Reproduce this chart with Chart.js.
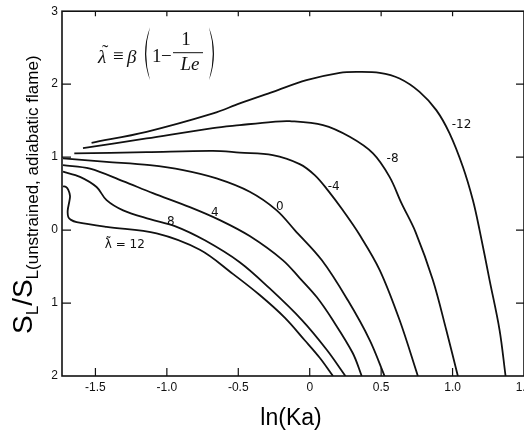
<!DOCTYPE html>
<html>
<head>
<meta charset="utf-8">
<script src="https://cdn.jsdelivr.net/npm/chart.js@4"></script>
<style>
  html, body { margin: 0; padding: 0; background: #fff; overflow: hidden; }
  #wrap { width: 560px; height: 431px; }
</style>
</head>
<body>
<div id="wrap"><canvas id="chart" width="560" height="431"></canvas></div>
<script>
// lambda-tilde values, one curve each
const lambdas = [12, 8, 4, 0, -4, -8, -12];

const lam12X = [-1.727, -1.706, -1.69, -1.678, -1.682, -1.694, -1.69, -1.671, -1.631, -1.422, -1.072, -0.769, -0.538, -0.35, -0.175, -0.035, 0.07, 0.163];
const lam12Y = [0.6, 0.59, 0.55, 0.47, 0.4, 0.27, 0.18, 0.14, 0.11, 0.045, -0.045, -0.27, -0.6, -0.89, -1.2, -1.51, -1.75, -2.0];

const lam8X = [-1.727, -1.608, -1.492, -1.422, -1.306, -1.119, -0.944, -0.734, -0.49, -0.28, -0.056, 0.119, 0.25];
const lam8Y = [0.8, 0.73, 0.59, 0.41, 0.27, 0.15, 0.055, -0.14, -0.44, -0.8, -1.23, -1.64, -2.0];

const lam4X = [-1.727, -1.538, -1.308, -1.098, -0.839, -0.629, -0.42, -0.189, -0.07, 0.049, 0.161, 0.301, 0.364];
const lam4Y = [0.89, 0.842, 0.671, 0.507, 0.315, 0.137, -0.082, -0.411, -0.658, -0.918, -1.233, -1.685, -2.0];

const lam0X = [-1.727, -1.422, -1.119, -0.886, -0.652, -0.42, -0.233, -0.105, 0.084, 0.266, 0.42, 0.524];
const lam0Y = [0.982, 0.936, 0.89, 0.822, 0.708, 0.525, 0.274, 0.0, -0.411, -0.959, -1.507, -2.0];

const lamM4X = [-1.648, -1.142, -0.678, -0.49, -0.259, -0.07, 0.035, 0.126, 0.231, 0.35, 0.49, 0.629, 0.757];
const lamM4Y = [1.051, 1.068, 1.086, 1.062, 1.027, 0.904, 0.753, 0.548, 0.274, -0.068, -0.548, -1.233, -2.0];

const lamM8X = [-1.587, -1.142, -0.678, -0.49, -0.257, -0.14, 0.093, 0.28, 0.443, 0.559, 0.643, 0.741, 0.862, 0.956, 1.037];
const lamM8Y = [1.123, 1.256, 1.397, 1.438, 1.484, 1.493, 1.438, 1.278, 1.051, 0.729, 0.366, -0.027, -0.685, -1.37, -2.0];

const lamM12X = [-1.527, -1.142, -0.676, -0.49, -0.257, -0.023, 0.21, 0.327, 0.49, 0.629, 0.769, 0.886, 0.979, 1.072, 1.142, 1.189, 1.259, 1.329, 1.371];
const lamM12Y = [1.196, 1.347, 1.599, 1.736, 1.895, 2.055, 2.155, 2.168, 2.155, 2.078, 1.895, 1.644, 1.325, 0.867, 0.411, 0.0, -0.685, -1.37, -2.0];

const curveXs = [lam12X, lam8X, lam4X, lam0X, lamM4X, lamM8X, lamM12X];
const curveYs = [lam12Y, lam8Y, lam4Y, lam0Y, lamM4Y, lamM8Y, lamM12Y];

const curveLabels = ["\u03bb\u0303 = 12", "8", "4", "0", "-4", "-8", "-12"];
const labelX = [-1.294, -0.972, -0.664, -0.21, 0.168, 0.58, 1.063];
const labelY = [-0.205, 0.11, 0.233, 0.315, 0.589, 0.973, 1.438];

const xTicks = [-1.5, -1, -0.5, 0, 0.5, 1, 1.5];
const xTickText = ["-1.5", "-1.0", "-0.5", "0", "0.5", "1.0", "1.5"];
const yTicks = [-2, -1, 0, 1, 2, 3];
const yTickText = ["2", "1", "0", "1", "2", "3"];

const INK = "#111";

function drawFrame(chart) {
  const { ctx, chartArea: a, scales } = chart;
  ctx.save();
  ctx.strokeStyle = INK;
  ctx.lineWidth = 1.6;
  ctx.strokeRect(a.left, a.top, a.right - a.left, a.bottom - a.top);
  ctx.lineWidth = 1.2;
  ctx.beginPath();
  yTicks.slice(1, -1).forEach((v) => {
    const py = scales.y.getPixelForValue(v);
    ctx.moveTo(a.left, py);
    ctx.lineTo(a.left + 9, py);
    ctx.moveTo(a.right, py);
    ctx.lineTo(a.right - 8, py);
  });
  xTicks.slice(0, -1).forEach((v) => {
    const px = scales.x.getPixelForValue(v);
    ctx.moveTo(px, a.bottom);
    ctx.lineTo(px, a.bottom - 8);
    ctx.moveTo(px, a.top);
    ctx.lineTo(px, a.top + 5);
  });
  ctx.stroke();
  ctx.restore();
}

function drawCurveLabels(chart) {
  const { ctx, scales } = chart;
  ctx.save();
  ctx.fillStyle = INK;
  ctx.font = '12px "DejaVu Sans"';
  ctx.textAlign = "center";
  ctx.textBaseline = "middle";
  curveLabels.forEach((t, i) => {
    ctx.fillText(t, scales.x.getPixelForValue(labelX[i]), scales.y.getPixelForValue(labelY[i]));
  });
  ctx.restore();
}

function drawParen(ctx, x, top, bottom, dir) {
  // dir = 1 for "(", -1 for ")"
  const mid = (top + bottom) / 2;
  ctx.beginPath();
  ctx.moveTo(x, top);
  ctx.quadraticCurveTo(x - dir * 10, mid, x, bottom);
  ctx.quadraticCurveTo(x - dir * 7.5, mid, x, top);
  ctx.fill();
}

function drawFormula(chart) {
  const { ctx, chartArea: a } = chart;
  const ox = a.left, oy = a.top;
  const it = 'italic 19px "Liberation Serif"';
  const rm = '19px "Liberation Serif"';
  ctx.save();
  ctx.fillStyle = INK;
  ctx.strokeStyle = INK;
  ctx.textBaseline = "alphabetic";
  ctx.textAlign = "left";
  ctx.font = it;
  ctx.fillText("\u03bb", ox + 36, oy + 52);
  ctx.font = rm;
  ctx.fillText("\u02dc", ox + 40, oy + 47);
  ctx.fillText("\u2261", ox + 51, oy + 51);
  ctx.font = it;
  ctx.fillText("\u03b2", ox + 65, oy + 52);
  drawParen(ctx, ox + 88, oy + 16, oy + 69, 1);
  ctx.font = rm;
  ctx.fillText("1", ox + 90, oy + 51);
  ctx.fillText("\u2212", ox + 99, oy + 51);
  ctx.textAlign = "center";
  ctx.fillText("1", ox + 124, oy + 34);
  ctx.font = it;
  ctx.fillText("Le", ox + 128, oy + 59);
  ctx.lineWidth = 1;
  ctx.beginPath();
  ctx.moveTo(ox + 111, oy + 41.5);
  ctx.lineTo(ox + 141, oy + 41.5);
  ctx.stroke();
  drawParen(ctx, ox + 147, oy + 16, oy + 69, -1);
  ctx.restore();
}

function drawTitles(chart) {
  const { ctx } = chart;
  ctx.save();
  ctx.fillStyle = "#000";
  ctx.textBaseline = "alphabetic";
  ctx.textAlign = "center";
  ctx.font = '23px "Liberation Sans"';
  ctx.fillText("ln(Ka)", 291, 425);

  ctx.translate(32, 334);
  ctx.rotate(-Math.PI / 2);
  ctx.textAlign = "left";
  const big = '28px "Liberation Sans"';
  const small = '17px "Liberation Sans"';
  const parts = [["S", big, 0], ["L", small, 6], ["/S", big, 0], ["L(unstrained, adiabatic flame)", small, 6]];
  let x = 0;
  parts.forEach(([t, f, dy]) => {
    ctx.font = f;
    ctx.fillText(t, x, dy);
    x += ctx.measureText(t).width;
  });
  ctx.restore();
}

const decorations = {
  id: "decorations",
  afterDatasetsDraw(chart) {
    drawFrame(chart);
    drawCurveLabels(chart);
    drawFormula(chart);
    drawTitles(chart);
  },
};

function drawChart() {
  new Chart(document.getElementById("chart"), {
    type: "line",
    data: {
      datasets: lambdas.map((lam, i) => ({
        label: String(lam),
        data: curveXs[i].map((x, j) => ({ x, y: curveYs[i][j] })),
        borderColor: INK,
        borderWidth: 1.8,
        pointRadius: 0,
        tension: 0.35,
        fill: false,
      })),
    },
    options: {
      responsive: false,
      animation: false,
      devicePixelRatio: 1,
      layout: { padding: { left: 40, top: 11, right: 36, bottom: 31 } },
      plugins: { legend: { display: false }, tooltip: { enabled: false } },
      scales: {
        x: {
          type: "linear",
          min: -1.734,
          max: 1.5,
          grid: { display: false, drawTicks: false },
          border: { display: false },
          afterBuildTicks: (s) => { s.ticks = xTicks.map((v) => ({ value: v })); },
          afterFit: (s) => { s.height = 24; },
          ticks: {
            padding: 4,
            color: INK,
            font: { family: "Liberation Sans", size: 12 },
            maxRotation: 0,
            callback: (v) => xTickText[xTicks.indexOf(v)],
          },
        },
        y: {
          type: "linear",
          min: -2,
          max: 3,
          grid: { display: false, drawTicks: false },
          border: { display: false },
          afterBuildTicks: (s) => { s.ticks = yTicks.map((v) => ({ value: v })); },
          afterFit: (s) => { s.width = 22; },
          ticks: {
            padding: 4,
            color: INK,
            font: { family: "Liberation Sans", size: 12 },
            callback: (v) => yTickText[yTicks.indexOf(v)],
          },
        },
      },
    },
    plugins: [decorations],
  });
}

window.addEventListener("load", () => {
  drawChart();
});
</script>
</body>
</html>
